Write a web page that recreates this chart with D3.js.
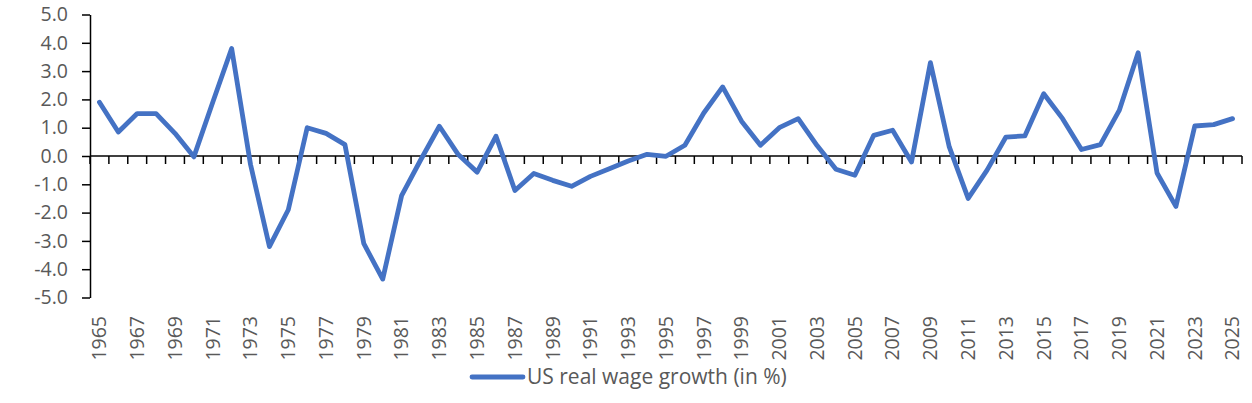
<!DOCTYPE html>
<html>
<head>
<meta charset="utf-8">
<script src="https://cdn.jsdelivr.net/npm/d3@7"></script>
<style>
  body { margin: 0; background: #fff; }
  svg text { font-family: "Open Sans", "Noto Sans", sans-serif; fill: #595959; }
</style>
</head>
<body>
<svg id="drawing_region"></svg>
<script>
const years = [1965, 1966, 1967, 1968, 1969, 1970, 1971, 1972, 1973, 1974,
    1975, 1976, 1977, 1978, 1979, 1980, 1981, 1982, 1983, 1984,
    1985, 1986, 1987, 1988, 1989, 1990, 1991, 1992, 1993, 1994,
    1995, 1996, 1997, 1998, 1999, 2000, 2001, 2002, 2003, 2004,
    2005, 2006, 2007, 2008, 2009, 2010, 2011, 2012, 2013, 2014,
    2015, 2016, 2017, 2018, 2019, 2020, 2021, 2022, 2023, 2024, 2025];

const wage_growth = [1.9, 0.85, 1.5, 1.5, 0.8, -0.03, 1.9, 3.8, -0.3, -3.2,
    -1.9, 1.0, 0.8, 0.4, -3.1, -4.35, -1.4, -0.15, 1.05, 0.05,
    -0.57, 0.7, -1.22, -0.62, -0.86, -1.07, -0.72, -0.45, -0.18, 0.06,
    -0.01, 0.38, 1.52, 2.44, 1.23, 0.38, 1.0, 1.32, 0.37, -0.47,
    -0.68, 0.73, 0.91, -0.21, 3.3, 0.32, -1.5, -0.5, 0.67, 0.71,
    2.2, 1.32, 0.23, 0.4, 1.61, 3.65, -0.6, -1.78, 1.06, 1.11, 1.32];

const y_ticks = [-5, -4, -3, -2, -1, 0, 1, 2, 3, 4, 5];
const series_name = 'US real wage growth (in %)';

const data = years.map((d, i) => ({ year: d, value: wage_growth[i] }));

const width = 1252, height = 403;
const margin = {top: 14.5, right: 10, bottom: 105.5, left: 90};

const svg = d3.select('#drawing_region')
    .attr('width', width)
    .attr('height', height);

const x = d3.scaleBand()
    .domain(years)
    .range([margin.left, 1242])
    .paddingInner(0)
    .paddingOuter(0);

const y = d3.scaleLinear()
    .domain([-5, 5])
    .range([height - margin.bottom, margin.top]);

// y axis
const yAxis = svg.append('g')
    .attr('transform', `translate(${margin.left},0)`)
    .call(d3.axisLeft(y)
        .tickValues(y_ticks)
        .tickFormat(d => d.toFixed(1))
        .tickSize(8)
        .tickSizeOuter(0)
        .tickPadding(14));
yAxis.selectAll('path, line').attr('stroke', '#000').attr('stroke-width', 1.5);
yAxis.selectAll('text')
    .style('font-size', '19.5px')
    .attr('fill', '#595959');

// x axis along zero
const xAxis = svg.append('g');
xAxis.append('line')
    .attr('x1', x.range()[0])
    .attr('x2', x.range()[1])
    .attr('y1', y(0))
    .attr('y2', y(0))
    .attr('stroke', '#000')
    .attr('stroke-width', 1.5);

const boundaries = years.map(d => x(d)).concat([x.range()[1]]);
xAxis.selectAll('.tick')
    .data(boundaries)
    .enter()
    .append('line')
    .attr('x1', d => d)
    .attr('x2', d => d)
    .attr('y1', y(0))
    .attr('y2', y(0) + 8)
    .attr('stroke', '#000')
    .attr('stroke-width', 1.5);

// year labels (every second year)
svg.append('g')
    .selectAll('text')
    .data(years.filter((d, i) => i % 2 === 0))
    .enter()
    .append('text')
    .attr('transform', d => `translate(${x(d) + x.bandwidth() / 2}, 316) rotate(-90)`)
    .attr('text-anchor', 'end')
    .attr('dy', '0.35em')
    .style('font-size', '19.5px')
    .text(d => d);

// line
const line = d3.line()
    .x(d => x(d.year) + x.bandwidth() / 2)
    .y(d => y(d.value));

svg.append('path')
    .datum(data)
    .attr('d', line)
    .attr('fill', 'none')
    .attr('stroke', '#4472C4')
    .attr('stroke-width', 4.8)
    .attr('stroke-linejoin', 'round')
    .attr('stroke-linecap', 'round');

// legend
const legend = svg.append('g')
    .attr('transform', 'translate(472, 377)');
legend.append('line')
    .attr('x1', 0)
    .attr('x2', 51)
    .attr('stroke', '#4472C4')
    .attr('stroke-width', 4.8)
    .attr('stroke-linecap', 'round');
legend.append('text')
    .attr('x', 55)
    .attr('dy', '0.35em')
    .style('font-size', '21px')
    .text(series_name);
</script>
</body>
</html>
